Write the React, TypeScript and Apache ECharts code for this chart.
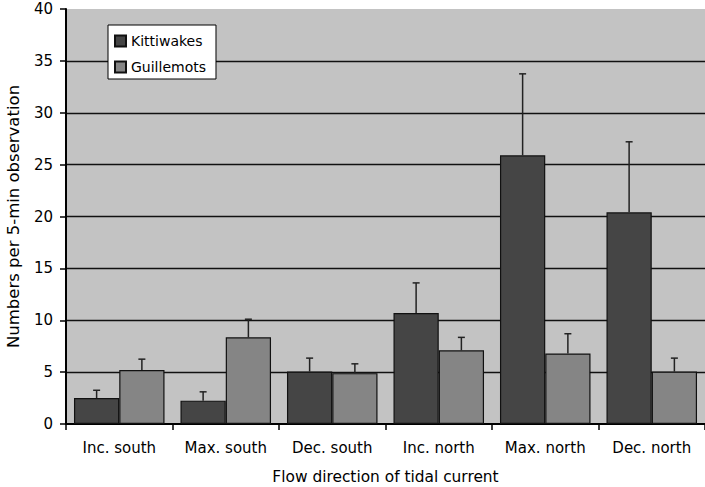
import React, { useEffect, useRef } from "react";
import * as echarts from "echarts";

const categories = ["Inc. south", "Max. south", "Dec. south", "Inc. north", "Max. north", "Dec. north"];
const kittiwakes = [2.5, 2.25, 5.05, 10.7, 25.9, 20.4];
const kittiwakesErr = [0.75, 0.85, 1.3, 2.9, 7.85, 6.8];
const guillemots = [5.2, 8.35, 4.9, 7.1, 6.8, 5.05];
const guillemotsErr = [1.05, 1.75, 0.9, 1.25, 1.9, 1.3];
const yTicks = [0, 5, 10, 15, 20, 25, 30, 35, 40];

const FONT = "DejaVu Sans";
const CAT_GAP = 0.15;

function errSeries(name: string, vals: number[], errs: number[], side: number) {
  return {
    type: "custom",
    name: name + " err",
    z: 5,
    silent: true,
    data: vals.map((v, i) => [i, v, errs[i]]),
    renderItem: (params: any, api: any) => {
      const idx = api.value(0);
      const v = api.value(1);
      const e = api.value(2);
      const band = api.size([1, 0])[0];
      const off = side * band * (1 - CAT_GAP) / 4;
      const p0 = api.coord([idx, v]);
      const p1 = api.coord([idx, v + e]);
      const x = p0[0] + off;
      const style = { stroke: "#222", lineWidth: 1.5 };
      return {
        type: "group",
        children: [
          { type: "line", shape: { x1: x, y1: p0[1], x2: x, y2: p1[1] }, style },
          { type: "line", shape: { x1: x - 3.5, y1: p1[1], x2: x + 3.5, y2: p1[1] }, style },
        ],
      };
    },
  };
}

export default function App() {
  const ref = useRef<HTMLDivElement>(null);
  useEffect(() => {
    if (!ref.current) return;
    const chart = echarts.init(ref.current, undefined, { renderer: "svg" });
    chart.setOption({
      animation: false,
      backgroundColor: "#ffffff",
      textStyle: { fontFamily: FONT },
      grid: {
        left: 66,
        right: 0,
        top: 9,
        bottom: 63,
        containLabel: false,
        outerBoundsMode: "none",
        show: true,
        backgroundColor: "#c3c3c3",
        borderWidth: 0,
      },
      legend: {
        orient: "vertical",
        left: 108,
        top: 25,
        padding: [9, 10, 5, 6],
        itemGap: 12,
        itemWidth: 11,
        itemHeight: 11,
        backgroundColor: "#ffffff",
        borderColor: "#000",
        borderWidth: 1,
        borderRadius: 0,
        icon: "rect",
        selectedMode: false,
        data: ["Kittiwakes", "Guillemots"],
        textStyle: { fontFamily: FONT, fontSize: 14, color: "#000", lineHeight: 14 },
      },
      xAxis: {
        type: "category",
        data: categories,
        name: "Flow direction of tidal current",
        nameLocation: "middle",
        nameGap: 45,
        nameTextStyle: { fontFamily: FONT, fontSize: 15.4, color: "#000" },
        axisLine: { show: true, lineStyle: { color: "#000", width: 2 } },
        axisTick: { show: true, length: 6, lineStyle: { color: "#000", width: 1.5 } },
        axisLabel: { fontFamily: FONT, fontSize: 15, color: "#000", margin: 16, interval: 0 },
        splitLine: { show: false },
      },
      yAxis: {
        type: "value",
        min: 0,
        max: 40,
        interval: 5,
        name: "Numbers per 5-min observation",
        nameLocation: "middle",
        nameGap: 44,
        nameTextStyle: { fontFamily: FONT, fontSize: 16.5, color: "#000" },
        axisLine: { show: true, lineStyle: { color: "#000", width: 2 } },
        axisTick: { show: true, length: 6, lineStyle: { color: "#000", width: 1.5 } },
        axisLabel: {
          fontFamily: FONT,
          fontSize: 15,
          color: "#000",
          margin: 13,
          formatter: (v: number) => (yTicks.includes(v) ? String(v) : ""),
        },
        splitLine: {
          show: true,
          showMinLine: false,
          showMaxLine: false,
          lineStyle: { color: "#111", width: 1.3 },
        },
      },
      series: [
        {
          type: "bar",
          name: "Kittiwakes",
          data: kittiwakes,
          barGap: "0%",
          barCategoryGap: "15%",
          itemStyle: { color: "#454545", borderColor: "#111", borderWidth: 1.2 },
        },
        {
          type: "bar",
          name: "Guillemots",
          data: guillemots,
          barGap: "0%",
          barCategoryGap: "15%",
          itemStyle: { color: "#858585", borderColor: "#111", borderWidth: 1.2 },
        },
        errSeries("Kittiwakes", kittiwakes, kittiwakesErr, -1),
        errSeries("Guillemots", guillemots, guillemotsErr, 1),
      ],
    });
    return () => chart.dispose();
  }, []);
  return <div ref={ref} style={{ width: 705, height: 487, position: "absolute", left: 0, top: 0 }} />;
}
